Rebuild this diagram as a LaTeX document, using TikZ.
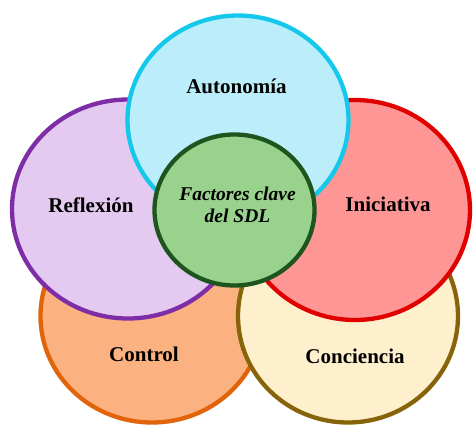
\documentclass[tikz,border=0pt]{standalone}
\usepackage{fontspec}
\setmainfont{Liberation Serif}
\usepackage{tikz}
\usetikzlibrary{positioning}
\usetikzlibrary{calc}
\usetikzlibrary{shapes.geometric}
\usetikzlibrary{shadows}

\definecolor{autoline}{RGB}{20,200,235}
\definecolor{autofill}{RGB}{187,238,250}
\definecolor{reflline}{RGB}{125,45,165}
\definecolor{reflfill}{RGB}{228,202,240}
\definecolor{inicline}{RGB}{225,0,0}
\definecolor{inicfill}{RGB}{255,150,150}
\definecolor{ctrlline}{RGB}{225,100,10}
\definecolor{ctrlfill}{RGB}{252,178,128}
\definecolor{concline}{RGB}{135,100,10}
\definecolor{concfill}{RGB}{255,240,205}
\definecolor{coreline}{RGB}{30,85,30}
\definecolor{corefill}{RGB}{152,210,140}

\begin{document}
\begin{tikzpicture}[x=1pt, y=-1pt,
        factor/.style={ellipse, draw, line width=4.3pt, inner sep=0pt,
                drop shadow={opacity=0.25, shadow xshift=1.5pt, shadow yshift=-1.5pt}},
        lbl/.style={font=\bfseries\fontsize{21}{23}\selectfont, anchor=base}]

        \useasboundingbox[fill=white] (0,0) rectangle (473,428);

        % draw the bottom circles
        \node[factor, draw=ctrlline, fill=ctrlfill, minimum width=223, minimum height=213] (ctrl) at (152,316) {};
        \node[factor, draw=concline, fill=concfill, minimum width=220, minimum height=213] (conc) at (348,316) {};

        % draw the side circles
        \node[factor, draw=reflline, fill=reflfill, minimum width=232, minimum height=219] (refl) at (128,209) {};
        \node[factor, draw=inicline, fill=inicfill, minimum width=230, minimum height=220] (inic) at (355,210) {};

        % draw the top circle
        \node[factor, draw=autoline, fill=autofill, minimum width=221, minimum height=209] (auto) at (238,120) {};

        % draw the centre circle
        \node[factor, draw=coreline, fill=corefill, minimum width=160, minimum height=151] (core) at (234.5,210) {};

        % add the labels
        \node[lbl] (auto_txt) at ($(auto) + (-1.5,-27)$) {Autonomía};
        \node[lbl] (refl_txt) at ($(refl) + (-37,3.5)$) {Reflexión};
        \node[lbl] (inic_txt) at ($(inic) + (33,1.5)$) {Iniciativa};
        \node[lbl] (ctrl_txt) at ($(ctrl) + (-8,45.5)$) {Control};
        \node[lbl] (conc_txt) at ($(conc) + (7,47)$) {Conciencia};
        \node[font=\bfseries\itshape\fontsize{19.5}{21.5}\selectfont, align=center] (core_txt)
                at ($(core) + (3,-5)$) {Factores clave\\del SDL};

      \end{tikzpicture}
\end{document}
